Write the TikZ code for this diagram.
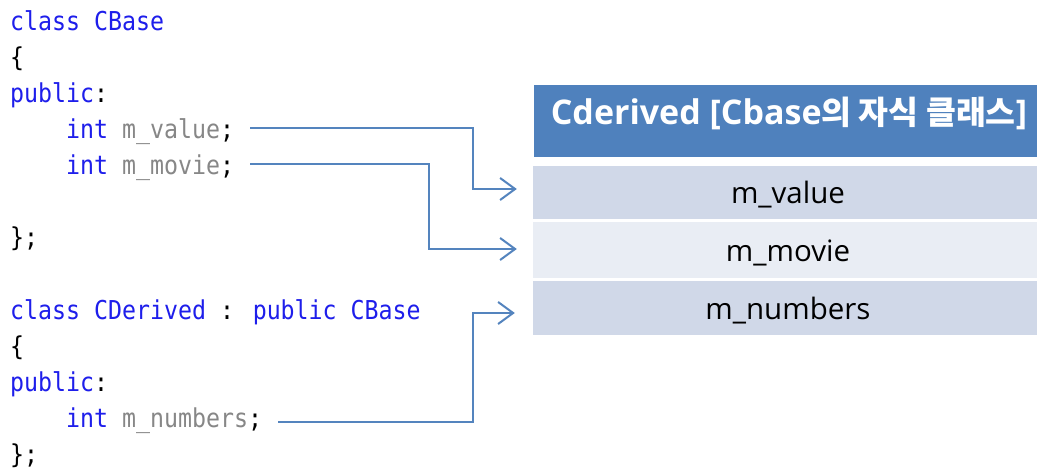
\documentclass[tikz,border=0pt]{standalone}
\usepackage{fontspec}
\usetikzlibrary{arrows.meta}
\newfontfamily\codefont{DejaVu Sans Mono}[FakeStretch=0.894]
\newfontfamily\cellfont{Open Sans}
\newfontfamily\headlatin{Open Sans}
\newfontfamily\headkr{Noto Sans CJK KR}
\definecolor{kw}{RGB}{30,30,235}
\definecolor{ident}{RGB}{135,135,135}
\definecolor{hdr}{RGB}{79,129,189}
\definecolor{rowA}{RGB}{208,216,232}
\definecolor{rowB}{RGB}{233,237,244}
\definecolor{linkc}{RGB}{84,132,190}
\newcommand{\kw}[1]{\textcolor{kw}{#1}}
\newcommand{\idn}[1]{\textcolor{ident}{#1}}
\begin{document}
\begin{tikzpicture}[x=1pt,y=-1pt,
  code/.style={anchor=base west, inner sep=0pt, font=\codefont\fontsize{26}{26}\selectfont},
  cell/.style={minimum width=510pt, inner sep=0pt, text height=23pt, text depth=0pt,
               font=\cellfont\fontsize{29.5}{29.5}\selectfont},
  headbox/.style={fill=hdr, minimum width=510pt, minimum height=72pt, inner sep=0pt,
               text height=8pt, text depth=0pt, text=white},
  link/.style={draw=linkc, line width=2pt, -{Straight Barb[length=15pt,width=22pt,line width=2pt]}}]
\useasboundingbox (0,0) rectangle (1037,468);
\fill[white] (0,0) rectangle (1037,468);

% source code
\node[code] (c1)  at (10,31)  {\kw{class CBase}};
\node[code] (c2)  at (10,67)  {\{};
\node[code] (c3)  at (10,103) {\kw{public}:};
\node[code] (c4)  at (66,139) {\kw{int} \idn{m\_value};};
\node[code] (c5)  at (66,175) {\kw{int} \idn{m\_movie};};
\node[code] (c7)  at (10,247) {\};};
\node[code] (c9)  at (10,319) {\kw{class CDerived} : \kw{public CBase}};
\node[code] (c10) at (10,355) {\{};
\node[code] (c11) at (10,391) {\kw{public}:};
\node[code] (c12) at (66,427) {\kw{int} \idn{m\_numbers};};
\node[code] (c13) at (10,463) {\};};

% memory layout of the derived class
\node[headbox] (hd) at (789,121)
  {\bfseries\headlatin\fontsize{34}{34}\selectfont Cderived [Cbase\headkr\fontsize{32.5}{32.5}\selectfont 의 자식 클래스\headlatin\fontsize{34}{34}\selectfont]};
\node[cell, fill=rowA, minimum height=53pt] (r1) at (788,192.5) {m\_value};
\node[cell, fill=rowB, minimum height=56pt] (r2) at (788,250)   {m\_movie};
\node[cell, fill=rowA, minimum height=54pt] (r3) at (788,307.5) {m\_numbers};

% connectors
\coordinate (k1) at (473,0);
\coordinate (k2) at (429,0);
\coordinate (s1) at ([xshift=16pt,yshift=11pt]c4.base east);
\coordinate (s2) at ([xshift=16pt,yshift=11pt]c5.base east);
\coordinate (s3) at ([xshift=16pt,yshift=5pt]c12.base east);
\coordinate (t1) at ([xshift=-16pt,yshift=3.5pt]r1.west);
\coordinate (t2) at ([xshift=-16pt,yshift=1pt]r2.west);
\coordinate (t3) at ([xshift=-18pt,yshift=-5.5pt]r3.west);
\draw[link] (s1) -- (s1 -| k1) |- (t1);
\draw[link] (s2) -- (s2 -| k2) |- (t2);
\draw[link] (s3) -- (s3 -| k1) |- (t3);
\end{tikzpicture}
\end{document}
